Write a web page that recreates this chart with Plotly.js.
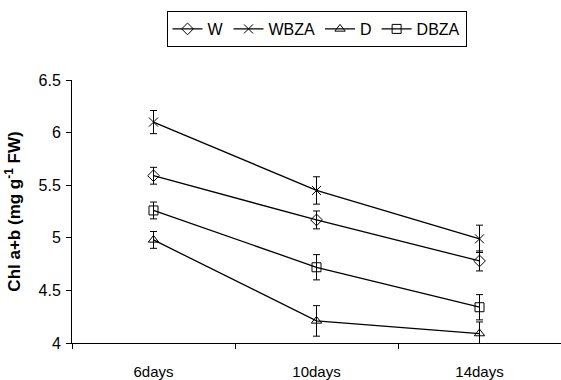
<!DOCTYPE html>
<html>
<head>
<meta charset="utf-8">
<script src="https://cdn.plot.ly/plotly-3.0.1.min.js"></script>
<style>html,body{margin:0;padding:0;background:#fff;}#chart{width:561px;height:380px;}</style>
</head>
<body>
<div id="chart"></div>
<script>
const categories = ["6days", "10days", "14days"];
const seriesNames = ["W", "WBZA", "D", "DBZA"];
const W = [5.59, 5.17, 4.78];
const W_err = [0.08, 0.085, 0.095];
const WBZA = [6.10, 5.45, 4.99];
const WBZA_err = [0.11, 0.13, 0.13];
const D = [4.98, 4.21, 4.09];
const D_err = [0.08, 0.145, 0.11];
const DBZA = [5.26, 4.72, 4.34];
const DBZA_err = [0.08, 0.12, 0.12];
const yTicks = [4, 4.5, 5, 5.5, 6, 6.5];
const yTickLabels = ["4", "4.5", "5", "5.5", "6", "6.5"];

const symbols = {W: "diamond-open", WBZA: "x-thin-open", D: "triangle-up-open", DBZA: "square-open"};
const values = {W: W, WBZA: WBZA, D: D, DBZA: DBZA};
const errs = {W: W_err, WBZA: WBZA_err, D: D_err, DBZA: DBZA_err};

const traces = seriesNames.map(n => ({
  type: "scatter",
  mode: "lines+markers",
  name: n,
  x: categories,
  y: values[n],
  line: {color: "#000", width: 1.3},
  marker: {symbol: symbols[n], size: 9, color: "#000", line: {color: "#000", width: 1}},
  error_y: {type: "data", array: errs[n], visible: true, color: "#000", thickness: 1, width: 3.5}
}));

const layout = {
  width: 561, height: 380,
  margin: {l: 72, r: 0, t: 80, b: 37},
  paper_bgcolor: "#fff", plot_bgcolor: "#fff",
  font: {family: "Liberation Sans, Arial, sans-serif", color: "#000", size: 14},
  showlegend: true,
  legend: {
    orientation: "h", x: 0.5, xanchor: "center", xref: "paper",
    yref: "paper", yanchor: "top",
    bordercolor: "#000", borderwidth: 1, font: {size: 16}, bgcolor: "#fff",
    itemwidth: 30, tracegroupgap: 0
  },
  xaxis: {
    type: "category", range: [-0.5, 2.5],
    showline: true, linecolor: "#000", linewidth: 1,
    ticks: "outside", tickson: "boundaries", ticklen: 5, tickcolor: "#000",
    showgrid: false, zeroline: false, fixedrange: true,
    tickfont: {size: 15}, ticklabelstandoff: 15
  },
  yaxis: {
    range: [4, 6.5], tickvals: yTicks, ticktext: yTickLabels,
    showline: true, linecolor: "#000", linewidth: 1,
    ticks: "outside", ticklen: 5, tickcolor: "#000",
    showgrid: false, zeroline: false,
    tickfont: {size: 16}, ticklabelstandoff: 2,
    title: {text: "<b>Chl a+b (mg g<sup>-1</sup> FW)</b>", font: {size: 17}, standoff: 13}
  }
};
layout.legend.y = 1 + (80 - 11) / (380 - 80 - 37);

Plotly.newPlot("chart", traces, layout, {displayModeBar: false, staticPlot: true});
</script>
</body>
</html>
